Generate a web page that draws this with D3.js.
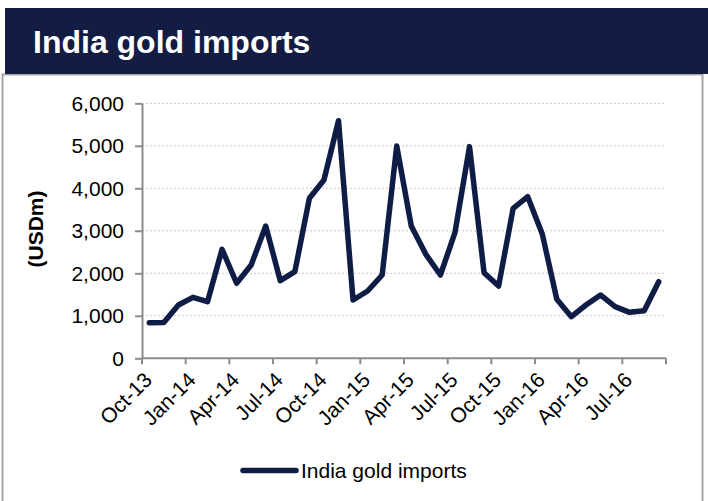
<!DOCTYPE html>
<html lang="en">
    <head>
        <meta charset="utf-8">
        <title>India gold imports</title>
        <script type="text/javascript" src="https://d3js.org/d3.v7.min.js"></script>

        <style type="text/css">
            body {
                margin: 0;
                background-color: white;
            }

            /* all chart text is arial-like */
            text {
                font-family: "Liberation Sans", Arial, Helvetica, sans-serif;
                fill: #000000;
            }

            .title {
                font-size: 32px;
                font-weight: bold;
                fill: white;
            }

            .tick_label {
                font-size: 21px;
            }

            .y_title {
                font-size: 21px;
                font-weight: bold;
            }

            .legend_label {
                font-size: 21px;
            }

            .grid line {
                stroke: #c8c8c8;
                stroke-dasharray: 2, 2;
            }
        </style>
    </head>

    <body>
        <svg width="708" height="501" id="svg1"></svg>

        <script type="text/javascript">

            // data (USDm, monthly)
            const months = ["Oct-13", "Nov-13", "Dec-13", "Jan-14", "Feb-14", "Mar-14",
                            "Apr-14", "May-14", "Jun-14", "Jul-14", "Aug-14", "Sep-14",
                            "Oct-14", "Nov-14", "Dec-14", "Jan-15", "Feb-15", "Mar-15",
                            "Apr-15", "May-15", "Jun-15", "Jul-15", "Aug-15", "Sep-15",
                            "Oct-15", "Nov-15", "Dec-15", "Jan-16", "Feb-16", "Mar-16",
                            "Apr-16", "May-16", "Jun-16", "Jul-16", "Aug-16", "Sep-16"];

            const imports = [838, 840, 1254, 1435, 1332, 2565, 1765, 2195, 3113, 1826,
                             2038, 3765, 4195, 5590, 1372, 1584, 1960, 4995, 3113, 2447,
                             1960, 2955, 4980, 2015, 1700, 3529, 3803, 2925, 1388, 980,
                             1254, 1490, 1215, 1082, 1121, 1803];

            const xTickLabels = ["Oct-13", "Jan-14", "Apr-14", "Jul-14", "Oct-14", "Jan-15",
                                 "Apr-15", "Jul-15", "Oct-15", "Jan-16", "Apr-16", "Jul-16"];

            const yTicks = [0, 1000, 2000, 3000, 4000, 5000, 6000];

            const seriesName = "India gold imports";
            const chartTitle = "India gold imports";
            const yTitle = "(USDm)";

            const svg = d3.select("#svg1");
            const navy = "#131c42";
            const lineColor = "#0f1c45";
            const axisColor = "#8c8c8c";

            // plot area
            const plotLeft = 142, plotRight = 666, plotTop = 103.3, plotBottom = 358.3;

            // outer frame (open at the bottom edge of the picture)
            svg.append("path")
                .attr("d", "M2.5,505 L2.5,74.5 L702.5,74.5 L702.5,505")
                .attr("fill", "none")
                .attr("stroke", "#a6a6a6")
                .attr("stroke-width", 2);

            // header band
            svg.append("rect")
                .attr("x", 5)
                .attr("y", 8)
                .attr("width", 703)
                .attr("height", 66)
                .attr("fill", navy);

            svg.append("text")
                .attr("class", "title")
                .attr("x", 33)
                .attr("y", 53)
                .text(chartTitle);

            // scales
            const xScale = d3.scaleBand()
                            .domain(months)
                            .range([plotLeft, plotRight])
                            .padding(0);

            const yScale = d3.scaleLinear()
                            .domain([0, 6000])
                            .range([plotBottom, plotTop]);

            // gridlines
            svg.append("g")
                .attr("class", "grid")
                .selectAll("line")
                .data(yTicks.filter(d => d > 0))
                .enter()
                .append("line")
                .attr("x1", plotLeft)
                .attr("x2", plotRight)
                .attr("y1", d => yScale(d))
                .attr("y2", d => yScale(d));

            // y axis
            const leftAxis = d3.axisLeft(yScale)
                            .tickValues(yTicks)
                            .tickFormat(d3.format(","))
                            .tickSizeInner(7)
                            .tickSizeOuter(0)
                            .tickPadding(11);

            const yAxis = svg.append("g")
                .attr("transform", "translate(" + plotLeft + ",0)")
                .call(leftAxis);
            yAxis.select(".domain").attr("stroke", axisColor).attr("stroke-width", 2);
            yAxis.selectAll(".tick line").attr("stroke", axisColor).attr("stroke-width", 2);
            yAxis.selectAll(".tick text")
                .attr("class", "tick_label")
                .attr("fill", "#000")
                .style("font-size", "21px")
                .style("font-family", "'Liberation Sans', Arial, sans-serif");

            // x axis: ticks on category boundaries every 3 months
            const boundaries = months.filter((d, i) => i % 3 === 0).map(d => xScale(d));
            boundaries.push(plotRight);

            const xAxis = svg.append("g");
            xAxis.append("line")
                .attr("x1", plotLeft)
                .attr("x2", plotRight)
                .attr("y1", plotBottom)
                .attr("y2", plotBottom)
                .attr("stroke", axisColor)
                .attr("stroke-width", 2);

            xAxis.selectAll(".xtick")
                .data(boundaries)
                .enter()
                .append("line")
                .attr("x1", d => d)
                .attr("x2", d => d)
                .attr("y1", plotBottom)
                .attr("y2", plotBottom + 6)
                .attr("stroke", axisColor)
                .attr("stroke-width", 2);

            // rotated month labels
            xAxis.selectAll(".xlabel")
                .data(xTickLabels)
                .enter()
                .append("text")
                .attr("class", "tick_label")
                .attr("text-anchor", "end")
                .attr("transform", d => "translate(" + (xScale(d) + xScale.bandwidth() / 2 + 4) + "," + (plotBottom + 23) + ") rotate(-45)")
                .text(d => d);

            // y title
            svg.append("text")
                .attr("class", "y_title")
                .attr("text-anchor", "middle")
                .attr("transform", "translate(43,229) rotate(-90)")
                .text(yTitle);

            // the line
            const line = d3.line()
                        .x((d, i) => xScale(months[i]) + xScale.bandwidth() / 2)
                        .y(d => yScale(d));

            svg.append("path")
                .datum(imports)
                .attr("d", line)
                .attr("fill", "none")
                .attr("stroke", lineColor)
                .attr("stroke-width", 5.5)
                .attr("stroke-linejoin", "round")
                .attr("stroke-linecap", "round");

            // legend
            svg.append("line")
                .attr("x1", 243)
                .attr("x2", 296)
                .attr("y1", 470.5)
                .attr("y2", 470.5)
                .attr("stroke", lineColor)
                .attr("stroke-width", 5.5)
                .attr("stroke-linecap", "round");

            svg.append("text")
                .attr("class", "legend_label")
                .attr("x", 301)
                .attr("y", 470.5)
                .attr("dy", "0.35em")
                .text(seriesName);

        </script>
    </body>
</html>
